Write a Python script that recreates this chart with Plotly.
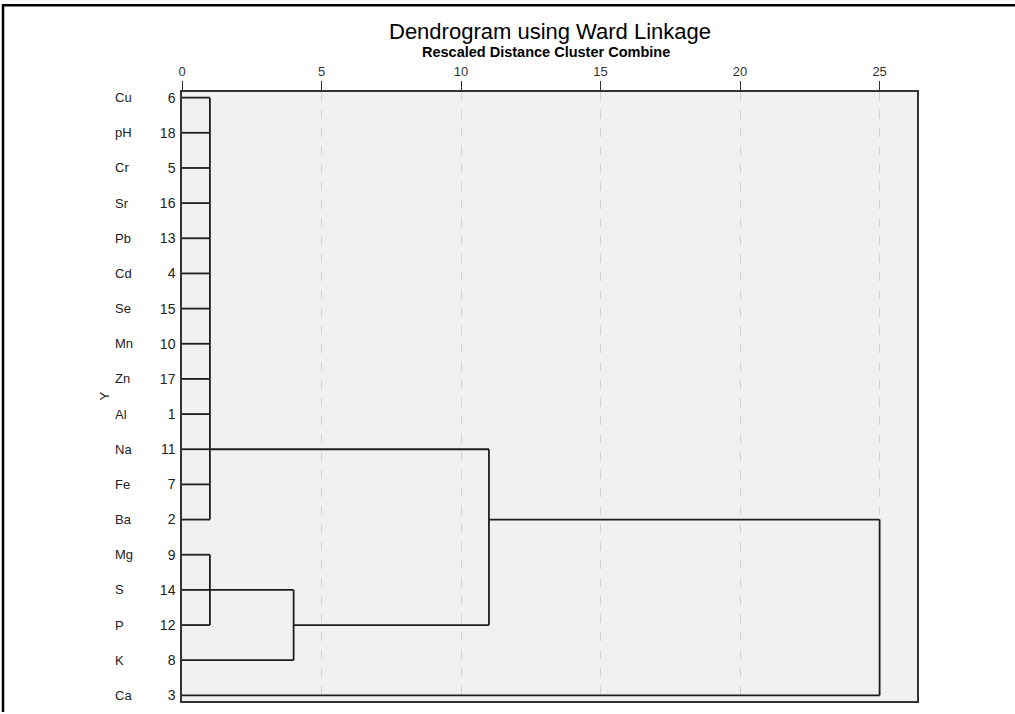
import plotly.graph_objects as go

# ---- data ----
names = ["Cu", "pH", "Cr", "Sr", "Pb", "Cd", "Se", "Mn", "Zn", "Al",
         "Na", "Fe", "Ba", "Mg", "S", "P", "K", "Ca"]
case_nums = [6, 18, 5, 16, 13, 4, 15, 10, 17, 1, 11, 7, 2, 9, 14, 12, 8, 3]

# clusters (Ward linkage, rescaled distance)
merge_ids = ["C1", "C2", "C3", "C4", "C5"]
merge_members = [
    ["Cu", "pH", "Cr", "Sr", "Pb", "Cd", "Se", "Mn", "Zn", "Al", "Na", "Fe", "Ba"],
    ["Mg", "S", "P"],
    ["C2", "K"],
    ["C1", "C3"],
    ["C4", "Ca"],
]
merge_dist = [1, 1, 4, 11, 25]
merge_row = ["Na", "S", "P", "Ba", "Ca"]   # row where each cluster's line leaves

x_ticks = [0, 5, 10, 15, 20, 25]

# ---- build dendrogram lines ----
row_of = {n: i for i, n in enumerate(names)}
pos = {n: (row_of[n], 0.0) for n in names}
xs, ys = [], []
for cid, members, d, orow in zip(merge_ids, merge_members, merge_dist, merge_row):
    rows = []
    for m in members:
        r, x0 = pos[m]
        xs += [x0, d, None]
        ys += [r, r, None]
        rows.append(r)
    xs += [d, d, None]
    ys += [min(rows), max(rows), None]
    pos[cid] = (row_of[orow], d)

fig = go.Figure()
fig.add_trace(go.Scatter(x=xs, y=ys, mode="lines",
                         line=dict(color="#1e1e1e", width=1.8),
                         hoverinfo="skip", showlegend=False))

# geometry helpers (plot area in px)
W, H = 1015, 714
L, R, T, B = 182, 917, 92, 703
pw, ph = R - L, B - T


def px_x(p):
    return (p - L) / pw


def px_y(p):
    return (B - p) / ph


annotations = []
for i, n in enumerate(names):
    annotations.append(dict(x=px_x(113), y=i, xref="paper", yref="y", text=n,
                            showarrow=False, xanchor="left", yanchor="middle",
                            font=dict(family="Liberation Sans", size=13, color="#222")))
annotations.append(dict(x=px_x(104), y=0.5, xref="paper", yref="paper", text="Y",
                        textangle=-90, showarrow=False, xanchor="center", yanchor="middle",
                        font=dict(family="Liberation Sans", size=13, color="#222")))
annotations.append(dict(x=px_x(550), y=px_y(31), xref="paper", yref="paper",
                        text="Dendrogram using Ward Linkage", showarrow=False,
                        xanchor="center", yanchor="middle",
                        font=dict(family="Liberation Sans", size=22, color="#000")))
annotations.append(dict(x=px_x(546), y=px_y(52), xref="paper", yref="paper",
                        text="<b>Rescaled Distance Cluster Combine</b>", showarrow=False,
                        xanchor="center", yanchor="middle",
                        font=dict(family="Liberation Sans", size=14.5, color="#000")))

shapes = [
    dict(type="line", xref="paper", yref="paper", x0=px_x(2), x1=px_x(1015),
         y0=px_y(5), y1=px_y(5), line=dict(color="black", width=2.5)),
    dict(type="line", xref="paper", yref="paper", x0=px_x(3), x1=px_x(3),
         y0=px_y(4), y1=px_y(714), line=dict(color="black", width=2.5)),
]

fig.update_layout(
    width=W, height=H,
    margin=dict(l=L, r=W - R, t=T, b=H - B, pad=0),
    paper_bgcolor="white", plot_bgcolor="#f0f0f0",
    annotations=annotations, shapes=shapes,
    font=dict(family="Liberation Sans", size=12, color="#222"),
    xaxis=dict(side="top", range=[0, 26.34], tickvals=x_ticks,
               ticks="outside", ticklen=9, tickcolor="#333", tickwidth=1,
               showgrid=True, gridcolor="#d2d2d2", griddash="dash", gridwidth=1,
               zeroline=False, showline=True, mirror=True,
               linecolor="#333", linewidth=1.5,
               tickfont=dict(family="Liberation Sans", size=13, color="#333")),
    yaxis=dict(range=[17.16, -0.16], tickvals=list(range(len(names))),
               ticktext=[str(c) for c in case_nums], ticks="",
               ticklabelstandoff=2,
               showgrid=False, zeroline=False, showline=True, mirror=True,
               linecolor="#333", linewidth=1.5,
               tickfont=dict(family="Liberation Sans", size=14, color="#222")),
)

fig.write_html("out.html", config={"displayModeBar": False},
               post_script="document.body.style.margin='0';document.body.style.overflow='hidden';")
